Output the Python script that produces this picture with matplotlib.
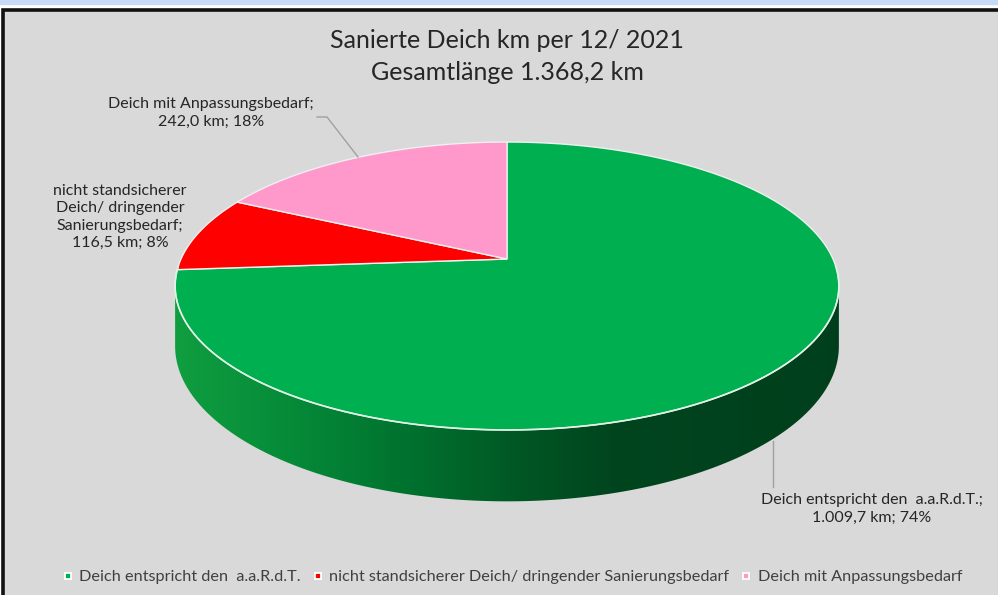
import numpy as np
import matplotlib
matplotlib.use("Agg")
import matplotlib.pyplot as plt
from matplotlib.patches import Polygon, Rectangle
from matplotlib.lines import Line2D

# ---- data ----
categories = ["Deich entspricht den  a.a.R.d.T.",
              "nicht standsicherer Deich/ dringender Sanierungsbedarf",
              "Deich mit Anpassungsbedarf"]
values_km = [1009.7, 116.5, 242.0]
label_texts = ["Deich entspricht den  a.a.R.d.T.;\n1.009,7 km; 74%",
               "nicht standsicherer\nDeich/ dringender\nSanierungsbedarf;\n116,5 km; 8%",
               "Deich mit Anpassungsbedarf;\n242,0 km; 18%"]
colors = ["#00b050", "#ff0000", "#ff99cc"]
title_lines = ["Sanierte Deich km per 12/ 2021", "Gesamtlänge 1.368,2 km"]

plt.rcParams['font.family'] = ['Lato', 'DejaVu Sans']

W, H = 998, 595
fig = plt.figure(figsize=(W / 100, H / 100), dpi=100, facecolor="white")
ax = fig.add_axes([0, 0, 1, 1])
ax.set_xlim(0, W)
ax.set_ylim(H, 0)
ax.axis("off")

# frame
ax.add_patch(Rectangle((0, 0), W, 3.5, color="#c6daf8", zorder=0))
ax.add_patch(Rectangle((3, 9.5), W + 20, H + 20, facecolor="#d9d9d9",
                       edgecolor="#111111", lw=2.6, zorder=0.5))

# perspective pie geometry (pixel space)
cx, cy0 = 507, 259          # projected centre
A, B, k = 326, 138.9, 0.1875  # horizontal / vertical radius, perspective
D = 58                       # thickness
total = sum(values_km)
fracs = np.array(values_km) / total
bounds = np.concatenate([[0], np.cumsum(fracs) * 360])


def proj(theta_deg, drop=0.0):
    t = np.radians(np.atleast_1d(theta_deg))
    u, v = np.sin(t), np.cos(t)
    s = 1.0 / (1.0 + k * v)
    return np.column_stack([cx + A * u * s, cy0 - B * v * s + D * s * drop])


def arc(a, b, drop=0.0, n=240):
    return proj(np.linspace(a, b, n), drop)


th_edge = np.degrees(np.arccos(-k))          # silhouette angle (~100.8)
vis_a, vis_b = th_edge, 360 - th_edge

# side wall with horizontal gradient
xs = np.linspace(0, 1, 256)
stops_x = [0.0, 0.18, 0.36, 0.52, 0.66, 1.0]
grad = np.zeros((1, 256, 3))
grad[0, :, 0] = np.interp(xs, stops_x, [0.06, 0.02, 0.0, 0.0, 0.0, 0.0])
grad[0, :, 1] = np.interp(xs, stops_x, [0.62, 0.54, 0.44, 0.34, 0.27, 0.25])
grad[0, :, 2] = np.interp(xs, stops_x, [0.25, 0.22, 0.18, 0.14, 0.12, 0.11])
xl, xr = cx - A / np.sqrt(1 - k * k), cx + A / np.sqrt(1 - k * k)
for i in range(3):
    a, b = max(bounds[i], vis_a), min(bounds[i + 1], vis_b)
    if b <= a:
        continue
    verts = np.vstack([arc(a, b), arc(a, b, 1.0)[::-1]])
    poly = Polygon(verts, closed=True, facecolor="none", edgecolor="none", zorder=2)
    ax.add_patch(poly)
    g = grad if i == 0 else np.clip(
        np.array(matplotlib.colors.to_rgb(colors[i]))[None, None, :] *
        (grad[..., 1:2] / 0.62), 0, 1)
    im = ax.imshow(g, extent=[xl, xr, 520, 130], aspect="auto", zorder=2,
                   interpolation="bilinear")
    im.set_clip_path(poly)

# top wedges
for i in range(3):
    pts = np.vstack([[cx, cy0], arc(bounds[i], bounds[i + 1])])
    ax.add_patch(Polygon(pts, closed=True, facecolor=colors[i],
                         edgecolor="#f0f0f0", lw=1.0, zorder=3))

# rim highlight along the front
rim = arc(vis_a - 8, vis_b + 8)
ax.plot(rim[:, 0], rim[:, 1], color="#dff2e6", lw=1.2, zorder=4)

# labels with leader lines
tc = "#262626"
fs_lab = 11.5
ax.text(872, 509, label_texts[0], ha="center", va="center", fontsize=fs_lab,
        color=tc, linespacing=1.3, zorder=5)
ax.plot([773, 773], [441, 487], color="#a0a0a0", lw=1, zorder=5)

ax.text(120, 217, label_texts[1], ha="center", va="center", fontsize=fs_lab,
        color=tc, linespacing=1.3, zorder=5)

ax.text(211, 113, label_texts[2], ha="center", va="center", fontsize=fs_lab,
        color=tc, linespacing=1.3, zorder=5)
ax.plot([317, 327, 358], [117, 117, 157], color="#a0a0a0", lw=1, zorder=5)

# title
ax.text(507, 41, title_lines[0], ha="center", va="center", fontsize=18, color=tc)
ax.text(507, 72, title_lines[1], ha="center", va="center", fontsize=18, color=tc)

# legend
handles = [Line2D([], [], marker="s", ls="none", markersize=4.8,
                  markerfacecolor=c, markeredgecolor="white", markeredgewidth=1.3)
           for c in colors]
leg = ax.legend(handles, categories, loc="center", bbox_to_anchor=(512 / W, 1 - 577 / H),
                ncol=3, frameon=False, fontsize=11.7, handlelength=0.7,
                handletextpad=0.35, columnspacing=0.7, borderpad=0)
for t in leg.get_texts():
    t.set_color("#404040")

fig.savefig("out.png", dpi=100, facecolor="white")
